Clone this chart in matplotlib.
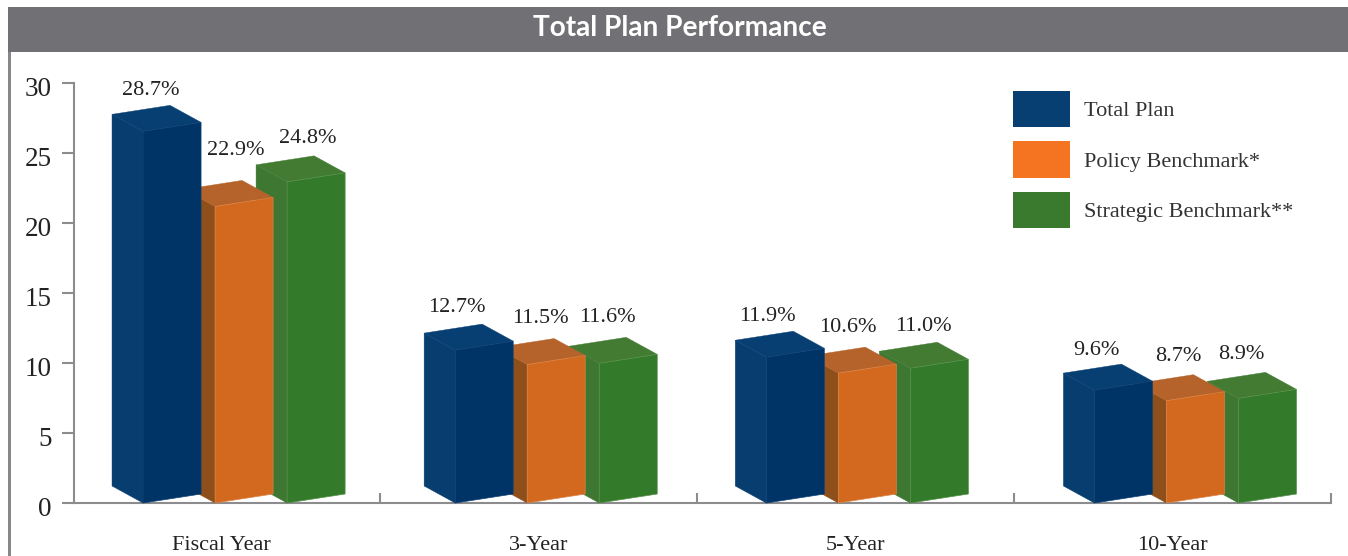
import matplotlib

matplotlib.use("Agg")
import matplotlib.pyplot as plt
from matplotlib.patches import Patch, Polygon, Rectangle
from matplotlib.transforms import ScaledTranslation

plt.rcParams["font.family"] = ["Liberation Serif", "DejaVu Serif"]

W, H = 1348, 556

categories = ["Fiscal Year", "3-Year", "5-Year", "10-Year"]
total_plan = [28.7, 12.7, 11.9, 9.6]
policy_benchmark = [22.9, 11.5, 10.6, 8.7]
strategic_benchmark = [24.8, 11.6, 11.0, 8.9]

series_names = ["Total Plan", "Policy Benchmark*", "Strategic Benchmark**"]
y_ticks = [0, 5, 10, 15, 20, 25, 30]

# front, side, top, highlight, legend
blue = ("#003366", "#083d70", "#073f73", "#0d4276", "#073f73")
orange = ("#d2691f", "#8f4f1a", "#b5632b", "#dd8243", "#f47421")
green = ("#347a2b", "#3e7731", "#437b33", "#559048", "#3a7a2e")

# layout, in reference pixels
GROUP_PX = 317
SLOT_PX = [-78, -6, 66]
GROUP_SHIFT_PX = [0, -5, -11, 0]
BAR_W_PX = 58
DEPTH_X_PX = 31
DEPTH_Y_PX = 17
SKEW_PX = 9
PX_PER_UNIT = 14
# the picture's perspective squeezes each group by a different amount
GROUP_SQUEEZE = [0.925, 0.86, 0.875, 0.84]
# label offset from the front top-left corner of each bar (blue, orange, green)
LABEL_OFFSETS = [
    [(8, 41), (21, 56), (21, 43)],
    [(2, 43), (13, 46), (8, 46)],
    [(1, 41), (10, 46), (13, 42)],
    [(2, 40), (12, 44), (3, 44)],
]

fig = plt.figure(figsize=(W / 100, H / 100), dpi=100)
ax = fig.add_axes([74 / W, 1 - 503 / H, (1331 - 74) / W, (503 - 83) / H])
ax.set_xlim((74 - 221) / GROUP_PX, 3.5)
ax.set_ylim(0, 30)
ax.patch.set_alpha(0)

# header band and left border
fig.add_artist(Rectangle((8 / W, 1 - 52 / H), (W - 8) / W, 45 / H, color="#717074", lw=0))
fig.add_artist(Rectangle((8 / W, 0), 3 / W, 1 - 52 / H, color="#87878a", lw=0))
fig.text(680 / W, 1 - 28 / H, "Total Plan Performance", color="white", family="Lato",
         weight="bold", fontsize=20.2, ha="center", va="center")


def draw_bar(x, h, colors, z):
    w = BAR_W_PX / GROUP_PX
    dx = DEPTH_X_PX / GROUP_PX
    dy = DEPTH_Y_PX / PX_PER_UNIT
    skew = SKEW_PX / PX_PER_UNIT
    front, side, top, light = colors[:4]
    ax.add_patch(Polygon([(x, 0), (x, h), (x - dx, h + dy), (x - dx, dy)],
                         fc=side, ec=side, lw=0.3, zorder=z, clip_on=False))
    ax.add_patch(Polygon([(x, h), (x + w, h + skew), (x + w - dx, h + skew + dy), (x - dx, h + dy)],
                         fc=top, ec=top, lw=0.3, zorder=z, clip_on=False))
    ax.add_patch(Polygon([(x, 0), (x + w, skew), (x + w, h + skew), (x, h)],
                         fc=front, ec=light, lw=0.5, zorder=z + 0.1, clip_on=False))


all_series = [total_plan, policy_benchmark, strategic_benchmark]
all_colors = [blue, orange, green]

# green goes first, blue overlaps the others
for s in [2, 1, 0]:
    for i, value in enumerate(all_series[s]):
        x = i + (SLOT_PX[s] + GROUP_SHIFT_PX[i]) / GROUP_PX
        h = value * GROUP_SQUEEZE[i]
        draw_bar(x, h, all_colors[s], 5 + (2 - s))
        off = LABEL_OFFSETS[i][s]
        ax.annotate(f"{value:.1f}%", (x, h), xytext=(off[0] * 0.72, off[1] * 0.72),
                    textcoords="offset points", ha="center", va="center",
                    fontsize=16, color="#222222", zorder=20)

for name in ["top", "right"]:
    ax.spines[name].set_visible(False)
for name in ["left", "bottom"]:
    ax.spines[name].set_color("#8c8c8e")
    ax.spines[name].set_linewidth(1.5)

ax.set_yticks(y_ticks)
ax.tick_params(axis="y", direction="out", length=9, width=1.5, color="#8c8c8e",
               labelsize=19.5, labelcolor="#222222", pad=7)
# numbers sit a little below their ticks in the reference
nudge = ScaledTranslation(0, -3 / 100, fig.dpi_scale_trans)
for lab in ax.get_yticklabels():
    lab.set_transform(lab.get_transform() + nudge)

ax.set_xticks([0.5, 1.5, 2.5, 3.5])
ax.set_xticklabels([])
ax.tick_params(axis="x", which="major", direction="in", length=7, width=1.5, color="#8c8c8e")
ax.set_xticks(range(len(categories)), minor=True)
ax.set_xticklabels(categories, minor=True)
ax.tick_params(axis="x", which="minor", length=0, labelsize=16, labelcolor="#222222", pad=23.5)

handles = [Patch(fc=c[4], ec="none", label=n) for c, n in zip(all_colors, series_names)]
leg = ax.legend(handles=handles, loc="upper left", bbox_to_anchor=(1013 / W, 1 - 91 / H),
                bbox_transform=fig.transFigure, frameon=False, fontsize=16, borderpad=0,
                borderaxespad=0, handlelength=2.57, handleheight=2.14, labelspacing=0.63,
                handletextpad=0.63)
for t in leg.get_texts():
    t.set_color("#333333")

fig.savefig("out.png", dpi=100)
